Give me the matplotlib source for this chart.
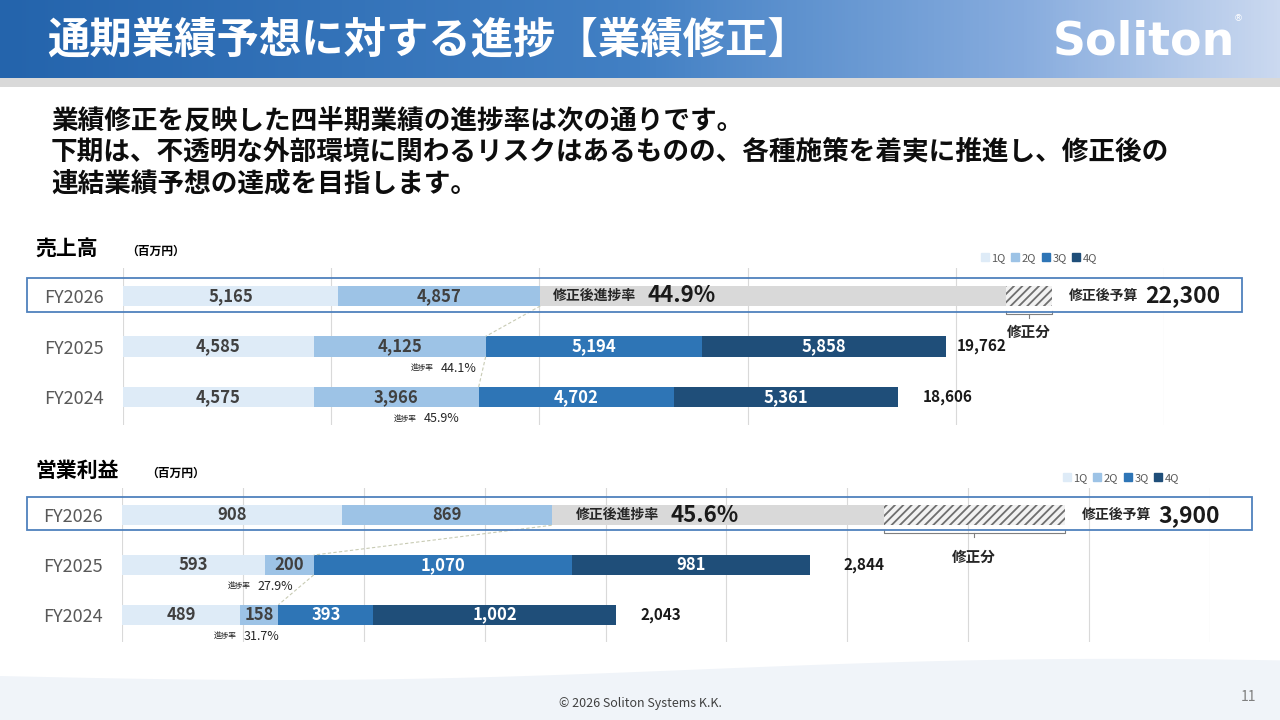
import numpy as np
import matplotlib
matplotlib.use('Agg')
import matplotlib.pyplot as plt
from matplotlib.patches import Rectangle, Patch

plt.rcParams['font.family'] = ['Noto Sans CJK JP', 'DejaVu Sans']
plt.rcParams['hatch.linewidth'] = 1.3

W, H = 1280, 720

# data (百万円)
years = ['FY2026', 'FY2025', 'FY2024']
quarters = ['1Q', '2Q', '3Q', '4Q']
sales_fy2026 = [5165, 4857]
sales_fy2025 = [4585, 4125, 5194, 5858]
sales_fy2024 = [4575, 3966, 4702, 5361]
sales_totals = [19762, 18606]          # FY2025, FY2024 (reported)
sales_budget_before = 21200
sales_budget_revised = 22300
op_fy2026 = [908, 869]
op_fy2025 = [593, 200, 1070, 981]
op_fy2024 = [489, 158, 393, 1002]
op_totals = [2844, 2043]
op_budget_before = 3150
op_budget_revised = 3900

q_colors = ['#DEEBF7', '#9DC3E6', '#2E75B6', '#1F4E79']
q_text = ['#404040', '#404040', 'white', 'white']


def px_rect(x0, y0, x1, y1):
    return [x0 / W, 1 - y1 / H, (x1 - x0) / W, (y1 - y0) / H]


fig = plt.figure(figsize=(12.8, 7.2), dpi=100)

# slide background in pixel coords
bg = fig.add_axes([0, 0, 1, 1])
bg.axis('off')

# header gradient
stops = np.array([[36, 100, 172], [66, 128, 196], [135, 172, 222], [203, 217, 240]]) / 255
sx = np.linspace(0, 1, 400)
grad = np.stack([np.interp(sx, [0, 0.5, 0.8, 1], stops[:, c]) for c in range(3)], axis=-1)
bg.imshow(grad[None, :, :], extent=(0, W, 78, 0), aspect='auto', zorder=0)
bg.add_patch(Rectangle((0, 78), W, 9, color='#D9D9D9', lw=0, zorder=0))
bg.set_xlim(0, W)
bg.set_ylim(H, 0)

bg.text(47, 41, '通期業績予想に対する進捗【業績修正】', color='white', fontsize=30.5,
        fontweight='bold', va='center', ha='left')
bg.text(1144, 42, 'Soliton', color='white', fontsize=33, fontweight='bold',
        family='DejaVu Sans', va='center', ha='center')
bg.text(1238, 19, '®', color='white', fontsize=6.5, va='center', ha='center',
        family='DejaVu Sans')

# footer wave
fx = np.linspace(0, W, 300)
fy = 676 + 7 * np.sin(np.pi * fx / 700) - 12 * fx / W
bg.fill_between(fx, fy, H, color='#F0F4F9', lw=0, zorder=0)
bg.text(640, 703, '© 2026 Soliton Systems K.K.', fontsize=9, color='#404040',
        ha='center', va='center')
bg.text(1248, 697, '11', fontsize=10, color='#7F7F7F', ha='center', va='center')

body = ['業績修正を反映した四半期業績の進捗率は次の通りです。',
        '下期は、不透明な外部環境に関わるリスクはあるものの、各種施策を着実に推進し、修正後の',
        '連結業績予想の達成を目指します。']
for i, line in enumerate(body):
    bg.text(51, 121 + i * 31.5, line, fontsize=19.2, fontweight='bold', color='#0D0D0D',
            va='center', ha='left')

bg.text(35, 249, '売上高', fontsize=15, fontweight='bold', va='center')
bg.text(126, 251, '（百万円）', fontsize=8.5, fontweight='bold', va='center')
bg.text(35, 470, '営業利益', fontsize=15, fontweight='bold', va='center')
bg.text(146, 473, '（百万円）', fontsize=8.5, fontweight='bold', va='center')


def draw_chart(rect, xmax, step, rows, totals, budget_before, budget_revised, box,
               note_y, legend_xy, gray_pad, total_pads, rate_pads):
    x0, y0, x1, y1 = rect
    ax = fig.add_axes(px_rect(*rect))
    ax.set_facecolor('none')
    upp = xmax / (x1 - x0)  # data units per pixel
    ax.set_xlim(0, xmax)
    ax.set_ylim(2.55, -0.55)
    ax.set_xticks(np.arange(0, xmax + 1, step))
    ax.tick_params(axis='x', length=0, labelbottom=False)
    ax.grid(axis='x', color='#D9D9D9', lw=0.8, zorder=0)
    ax.set_yticks(range(len(years)), years)
    ax.tick_params(axis='y', length=0, pad=14, labelsize=13, labelcolor='#595959')
    for s in ax.spines.values():
        s.set_visible(False)

    h = 0.4
    for r, vals in enumerate(rows):
        left = 0
        for q, v in enumerate(vals):
            ax.barh(r, v, left=left, height=h, color=q_colors[q], lw=0, zorder=2)
            ax.text(left + v / 2, r, f'{v:,}', ha='center', va='center', fontsize=12,
                    fontweight='bold', color=q_text[q], zorder=4)
            left += v
        if r > 0:
            total = totals[r - 1]
            ax.text(left + total_pads[r - 1] * upp, r, f'{total:,}', ha='left', va='center',
                    fontsize=11, fontweight='bold', color='#1A1A1A', zorder=4)
            first_half = vals[0] + vals[1]
            t = ax.text(first_half - rate_pads[r - 1] * upp, r + 0.43,
                        f'{first_half / total:.1%}', ha='right', va='center', fontsize=9,
                        color='#262626')
            ax.annotate('進捗率', xy=(0, 0.5), xycoords=t, xytext=(-5, 0),
                        textcoords='offset points', ha='right', va='center', fontsize=5.5,
                        color='#262626')

    # FY2026 remaining / revision
    done = sum(rows[0])
    ax.barh(0, budget_before - done, left=done, height=h, color='#D9D9D9', lw=0, zorder=2)
    ax.barh(0, budget_revised - budget_before, left=budget_before, height=h,
            color='#F2F2F2', edgecolor='#6F6F6F', hatch='////', lw=0, zorder=2)
    t = ax.text(done + gray_pad * upp, 0, '修正後進捗率', ha='left', va='center',
                fontsize=10, fontweight='bold', color='#262626', zorder=4)
    ax.annotate(f'{done / budget_revised:.1%}', xy=(1, 0.5), xycoords=t, xytext=(8, 0),
                textcoords='offset points', ha='left', va='center', fontsize=16,
                fontweight='bold', color='#1A1A1A')
    t = ax.text(budget_revised + 17 * upp, 0, '修正後予算', ha='left', va='center',
                fontsize=10, fontweight='bold', color='#262626', clip_on=False)
    ax.annotate(f'{budget_revised:,}', xy=(1, 0.5), xycoords=t, xytext=(5, 0),
                textcoords='offset points', ha='left', va='center', fontsize=16.5,
                fontweight='bold', color='#1A1A1A', annotation_clip=False)

    # bracket for revision
    by0, by1 = h / 2 + 0.1, h / 2 + 0.16
    mid = (budget_before + budget_revised) / 2
    ax.plot([budget_before, budget_before, budget_revised, budget_revised],
            [by0, by1, by1, by0], color='#7F7F7F', lw=0.8, zorder=3)
    ax.plot([mid, mid], [by1, by1 + 0.07], color='#7F7F7F', lw=0.8, zorder=3)
    ax.text(mid, note_y, '修正分', ha='center', va='center', fontsize=10.5,
            fontweight='bold', color='#262626')

    # connector lines between first-half ends
    ends = [rows[i][0] + rows[i][1] for i in range(3)]
    for i in range(2):
        ax.plot([ends[i], ends[i + 1]], [i + h / 2, i + 1 - h / 2], color='#C8CBB4',
                lw=0.8, ls=(0, (3, 2)), zorder=3)

    # highlight box around FY2026
    bx0, by_0, bx1, by_1 = box
    ax.add_patch(Rectangle((bx0, by_0), bx1 - bx0, by_1 - by_0, transform=bg.transData,
                           fill=False, edgecolor='#4F81BD', lw=1.3, clip_on=False, zorder=6))

    handles = [Patch(color=c, label=q) for c, q in zip(q_colors, quarters)]
    fig.legend(handles=handles, loc='center', ncol=4, frameon=False, fontsize=8,
               bbox_to_anchor=(legend_xy[0] / W, 1 - legend_xy[1] / H),
               handlelength=0.7, handleheight=0.7, handletextpad=0.25, columnspacing=0.5,
               labelcolor='#595959')
    return ax


draw_chart((123, 268, 1164, 425), 25000, 5000,
           [sales_fy2026, sales_fy2025, sales_fy2024], sales_totals,
           sales_budget_before, sales_budget_revised,
           (27, 278, 1242, 312), 0.71, (1039, 258), 13, [11, 25], [9, 19])

draw_chart((122, 488, 1210, 642), 4500, 500,
           [op_fy2026, op_fy2025, op_fy2024], op_totals,
           op_budget_before, op_budget_revised,
           (27, 497, 1252, 530), 0.83, (1121, 478), 24, [34, 25], [21, -1])

fig.savefig('out.png', dpi=100)
